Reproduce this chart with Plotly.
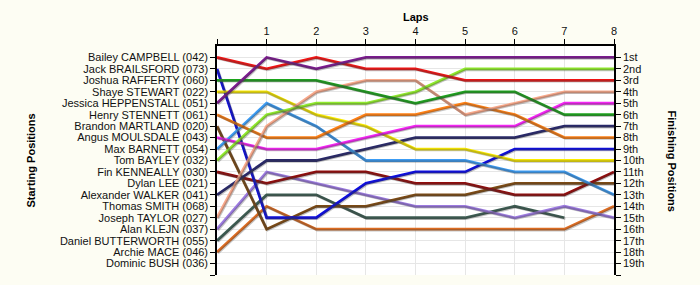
import plotly.graph_objects as go

laps = [0, 1, 2, 3, 4, 5, 6, 7, 8]

start_labels = [
    "Bailey CAMPBELL (042)", "Jack BRAILSFORD (073)", "Joshua RAFFERTY (060)",
    "Shaye STEWART (022)", "Jessica HEPPENSTALL (051)", "Henry STENNETT (061)",
    "Brandon MARTLAND (020)", "Angus MOULSDALE (043)", "Max BARNETT (054)",
    "Tom BAYLEY (032)", "Fin KENNEALLY (030)", "Dylan LEE (021)",
    "Alexander WALKER (041)", "Thomas SMITH (068)", "Joseph TAYLOR (027)",
    "Alan KLEJN (037)", "Daniel BUTTERWORTH (055)", "Archie MACE (046)",
    "Dominic BUSH (036)",
]
finish_labels = ["1st", "2nd", "3rd"] + [f"{i}th" for i in range(4, 20)]

bailey = [1, 2, 1, 2, 2, 3, 3, 3, 3]
jack = [2, 15, 15, 12, 11, 11, 9, 9, 9]
joshua = [3, 3, 3, 4, 5, 4, 4, 6, 6]
shaye = [4, 4, 6, 7, 9, 9, 10, 10, 10]
jessica = [5, 1, 2, 1, 1, 1, 1, 1, 1]
henry = [6, 8, 8, 6, 6, 5, 6, 8, 8]
brandon = [7, 16, 14, 14, 13, 13, 12, 12, 12]
angus = [8, 9, 9, 8, 7, 7, 7, 5, 5]
max_b = [9, 5, 7, 10, 10, 10, 11, 11, 13]
tom = [10, 6, 5, 5, 4, 2, 2, 2, 2]
fin = [11, 12, 11, 11, 12, 12, 13, 13, 11]
alexander = [13, 10, 10, 9, 8, 8, 8, 7, 7]
joseph = [15, 7, 4, 3, 3, 6, 5, 4, 4]
alan = [16, 11, 12, 13, 14, 14, 15, 14, 15]
daniel = [17, 13, 13, 15, 15, 15, 14, 15, None]
archie = [18, 14, 16, 16, 16, 16, 16, 16, 14]

series = [
    ("Archie MACE (046)", archie, "#dc6c22"),
    ("Daniel BUTTERWORTH (055)", daniel, "#3c5c52"),
    ("Alan KLEJN (037)", alan, "#9c7ae0"),
    ("Brandon MARTLAND (020)", brandon, "#7c4a14"),
    ("Fin KENNEALLY (030)", fin, "#900c0c"),
    ("Jack BRAILSFORD (073)", jack, "#0c0ce0"),
    ("Alexander WALKER (041)", alexander, "#28286a"),
    ("Max BARNETT (054)", max_b, "#3c9cf4"),
    ("Shaye STEWART (022)", shaye, "#fcec00"),
    ("Angus MOULSDALE (043)", angus, "#f424f4"),
    ("Henry STENNETT (061)", henry, "#ff8014"),
    ("Joseph TAYLOR (027)", joseph, "#f8a88a"),
    ("Tom BAYLEY (032)", tom, "#90ea2c"),
    ("Joshua RAFFERTY (060)", joshua, "#1ca41c"),
    ("Bailey CAMPBELL (042)", bailey, "#f01414"),
    ("Jessica HEPPENSTALL (051)", jessica, "#7c1a90"),
]

W, H = 700, 285
L, R, T, B = 217, 86, 46, 10
pw, ph = W - L - R, H - T - B
sx = 8.0 / pw      # one pixel in lap units
sy = 20.0 / ph     # one pixel in position units

fig = go.Figure()

# soft shadows (offset by 1px right/down via shifted overlay axes)
for name, ys, col in series:
    fig.add_trace(go.Scatter(x=laps, y=ys, mode="lines", xaxis="x3", yaxis="y3",
                             line=dict(color="rgba(60,60,60,0.3)", width=2.5),
                             hoverinfo="skip", showlegend=False))
for name, ys, col in series:
    fig.add_trace(go.Scatter(x=laps, y=ys, mode="lines", name=name,
                             line=dict(color=col, width=2.8), showlegend=False))
# invisible trace for right axis
fig.add_trace(go.Scatter(x=[0], y=[1], yaxis="y2", mode="markers",
                         marker=dict(opacity=0), showlegend=False, hoverinfo="skip"))

font = dict(family="Liberation Sans, Arial, sans-serif", size=11, color="#111111")
yvals = list(range(1, 21))

fig.update_layout(
    width=W, height=H,
    margin=dict(l=L, r=R, t=T, b=B),
    paper_bgcolor="#fdfdf3",
    plot_bgcolor="#ffffff",
    font=font,
    xaxis=dict(range=[0, 8], side="top", tickvals=laps,
               ticktext=[""] + [str(v) for v in laps[1:]],
               showline=True, linecolor="black", linewidth=1.5, mirror=False,
               ticks="outside", ticklen=5, tickcolor="black",
               showgrid=True, gridcolor="#e6e6e6", zeroline=False),
    yaxis=dict(range=[20, 0], tickvals=yvals, ticktext=start_labels + [""],
               showline=True, linecolor="black", linewidth=1.5,
               ticks="outside", ticklen=5, tickcolor="black",
               showgrid=True, gridcolor="#e6e6e6", zeroline=False),
    yaxis2=dict(range=[20, 0], tickvals=yvals, ticktext=finish_labels + [""],
                overlaying="y", side="right", anchor="x",
                showline=True, linecolor="black", linewidth=1.5,
                ticks="outside", ticklen=5, tickcolor="black",
                showgrid=False, zeroline=False),
    xaxis3=dict(range=[-sx, 8 - sx], overlaying="x", visible=False),
    yaxis3=dict(range=[20 - sy, -sy], overlaying="y", anchor="x3", visible=False),
    annotations=[
        dict(text="<b>Laps</b>", xref="paper", yref="paper", x=0.5, y=1,
             xanchor="center", yanchor="middle", yshift=29, showarrow=False,
             font=dict(size=11, color="black")),
        dict(text="<b>Starting Positions</b>", xref="paper", yref="paper",
             x=0, y=0.5, xanchor="center", yanchor="middle", xshift=-187,
             textangle=-90, showarrow=False, font=dict(size=11, color="black")),
        dict(text="<b>Finishing Positions</b>", xref="paper", yref="paper",
             x=1, y=0.5, xanchor="center", yanchor="middle", xshift=58,
             textangle=90, showarrow=False, font=dict(size=11, color="black")),
    ],
)

fig.write_html("out.html")
